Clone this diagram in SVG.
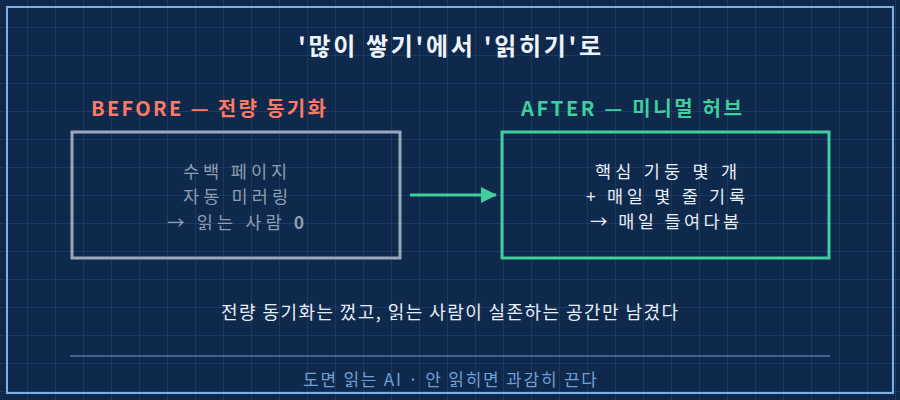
<svg xmlns="http://www.w3.org/2000/svg" width="900" height="400" viewBox="0 0 900 400">
<defs>
<pattern id="grid" width="28" height="28" patternUnits="userSpaceOnUse">
<path d="M28 0 V28 M0 28 H28" fill="none" stroke="#26497a" stroke-width="1"/>
</pattern>
<marker id="ah" markerWidth="16" markerHeight="16" refX="15" refY="8" orient="auto" markerUnits="userSpaceOnUse" viewBox="0 0 16 16">
<path d="M0 0 L16 8 L0 16 Z" fill="#3fcf9c"/>
</marker>
</defs>
<style>
text{font-family:"Noto Sans CJK KR","Noto Sans",sans-serif;}
.title{font-size:24px;font-weight:bold;fill:#eef3f9;}
.lbl{font-size:20px;font-weight:bold;}
.before{fill:#ff7a63;}
.after{fill:#3fcf9c;}
.gray{font-size:17.5px;fill:#8e9db3;}
.white{font-size:17.5px;fill:#e8eef6;}
.cap{font-size:18px;fill:#e8eef6;}
.foot{font-size:17px;fill:#6f9fd6;}
</style>
<rect x="0" y="0" width="900" height="400" fill="#0e294c"/>
<rect x="0" y="0" width="900" height="400" fill="url(#grid)"/>
<rect x="7" y="7" width="886" height="386" fill="none" stroke="#7fb0e2" stroke-width="2"/>
<text class="title" x="298" y="55" textLength="303" lengthAdjust="spacing">'많이 쌓기'에서 '읽히기'로</text>
<g id="before">
<text class="lbl before" x="91" y="116" textLength="235" lengthAdjust="spacing">BEFORE — 전량 동기화</text>
<rect x="72" y="132" width="328" height="126" fill="none" stroke="#9ba8bb" stroke-width="3"/>
<text class="gray" x="183" y="178" textLength="104" lengthAdjust="spacing">수백 페이지</text>
<text class="gray" x="183" y="203" textLength="105" lengthAdjust="spacing">자동 미러링</text>
<text class="gray" x="167" y="229" textLength="137" lengthAdjust="spacing">→ 읽는 사람  <tspan font-weight="bold">0</tspan></text>
</g>
<g id="after">
<text class="lbl after" x="521" y="116" textLength="221" lengthAdjust="spacing">AFTER — 미니멀 허브</text>
<rect x="502" y="132" width="327" height="126" fill="none" stroke="#3fcf9c" stroke-width="3"/>
<text class="white" x="595" y="178" textLength="142" lengthAdjust="spacing">핵심 기둥 몇 개</text>
<text class="white" x="586" y="203" textLength="159" lengthAdjust="spacing">+ 매일 몇 줄 기록</text>
<text class="white" x="590" y="228" textLength="149" lengthAdjust="spacing">→ 매일 들여다봄</text>
</g>
<g id="connectors">
<line x1="410" y1="195" x2="496" y2="195" stroke="#3fcf9c" stroke-width="3" marker-end="url(#ah)"/>
</g>
<text class="cap" x="221" y="319" textLength="457" lengthAdjust="spacing">전량 동기화는 껐고, 읽는 사람이 실존하는 공간만 남겼다</text>
<line x1="70" y1="356" x2="830" y2="356" stroke="#6f9fd6" stroke-width="1"/>
<text class="foot" x="303" y="386" textLength="294" lengthAdjust="spacing">도면 읽는 AI · 안 읽히면 과감히 끈다</text>
</svg>
